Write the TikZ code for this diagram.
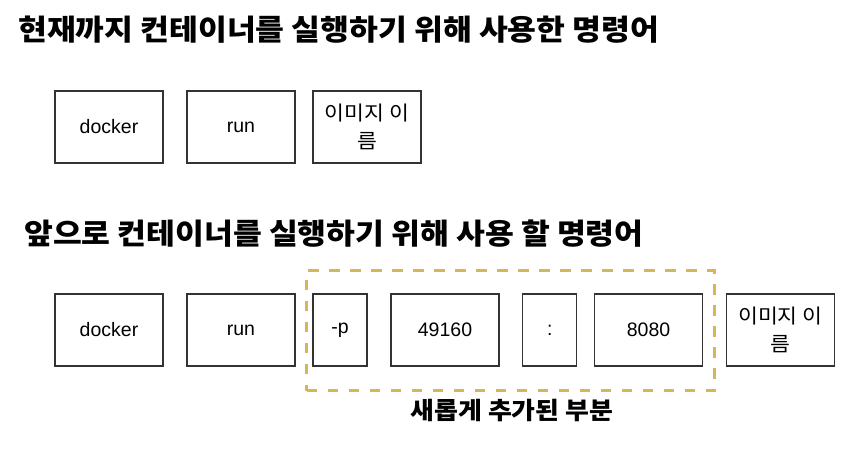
\documentclass[tikz,border=0pt]{standalone}
\usepackage{fontspec}
\setmainfont{Liberation Sans}
\newfontfamily\kr[FakeStretch=1.08]{Noto Sans CJK KR}
\definecolor{dashgold}{HTML}{D6B656}
\definecolor{boxline}{HTML}{333333}
\begin{document}
\begin{tikzpicture}[x=1pt,y=-1pt,
  cmdbox/.style={draw=boxline,line width=1.3pt,fill=white,minimum height=72pt,inner sep=0pt,
    font=\fontsize{19.5}{28}\selectfont,align=center},
  widebox/.style={cmdbox,minimum width=108pt},
  narrowbox/.style={cmdbox,minimum width=54pt},
  krtext/.style={font=\kr\fontsize{20}{28}\selectfont},
  title/.style={anchor=west,inner sep=0pt,font=\kr\bfseries\fontsize{29}{34}\selectfont},
  newpart/.style={draw=dashgold,line width=3pt,dash pattern=on 10.5pt off 10.5pt,
    minimum width=408pt,minimum height=120pt,inner sep=0pt}
]
\useasboundingbox (0,0) rectangle (862,452);
% titles
\node[title] (t1) at (18,30) {현재까지 컨테이너를 실행하기 위해 사용한 명령어};
\node[title] (t2) at (24,233.5) {앞으로 컨테이너를 실행하기 위해 사용 할 명령어};
% top row
\node[widebox] (d1) at (109,127) {docker};
\node[widebox] (r1) at (241,127) {run};
\node[widebox,krtext] (i1) at (367,127) {이미지 이\\름};
% bottom row
\node[newpart] (np) at (510.7,330.8) {};
\node[widebox] (d2) at (109,330) {docker};
\node[widebox] (r2) at (241,330) {run};
\node[narrowbox] (p2) at (340,330) {-p};
\node[widebox] (h2) at (445,330) {49160};
\node[narrowbox] (c2) at (549.8,330) {:};
\node[widebox] (g2) at (648.5,330) {8080};
\node[widebox,krtext] (i2) at (780.3,330) {이미지 이\\름};
% caption
\node[inner sep=0pt,font=\kr\bfseries\fontsize{24}{28}\selectfont] (cap) at (512,411) {새롭게 추가된 부분};
\end{tikzpicture}
\end{document}
